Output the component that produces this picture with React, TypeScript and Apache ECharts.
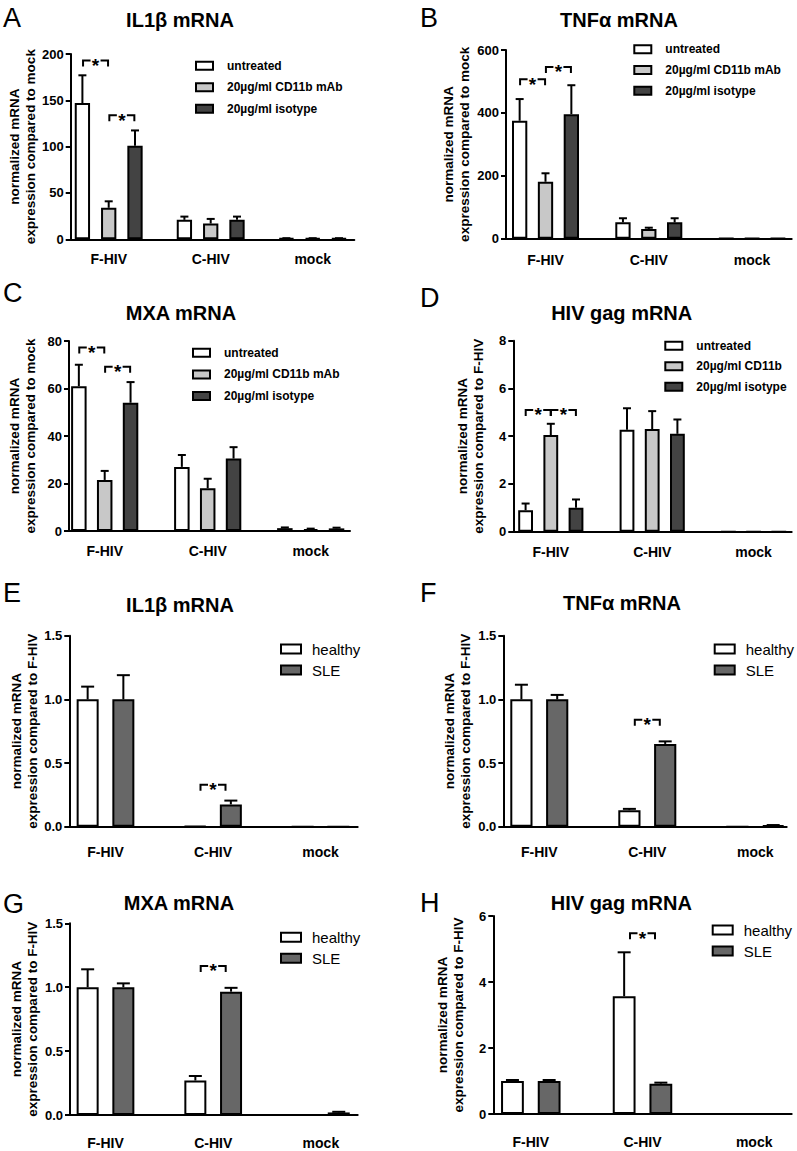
import React, { useEffect, useRef } from 'react';
import * as echarts from 'echarts';

const FONT = '"Liberation Sans", Arial, Helvetica, sans-serif';

// ---------- categories & names ----------
const groups = ['F-HIV', 'C-HIV', 'mock'];
const treatNames = ['untreated', '20µg/ml CD11b mAb', '20µg/ml isotype'];
const treatNamesD = ['untreated', '20µg/ml CD11b', '20µg/ml isotype'];
const donorNames = ['healthy', 'SLE'];
const treatColors = ['#ffffff', '#c8c8c8', '#434343'];
const donorColors = ['#ffffff', '#676767'];

// ---------- tick labels ----------
const ticksA = [0, 50, 100, 150, 200];
const ticksB = [0, 200, 400, 600];
const ticksC = [0, 20, 40, 60, 80];
const ticksD = [0, 2, 4, 6, 8];
const ticksEFG = [0, 0.5, 1.0, 1.5];
const ticksH = [0, 2, 4, 6];

// ---------- A: IL1β mRNA (compared to mock) ----------
const aUntreated = [147, 21, 1];
const aUntreatedErr = [30, 3.5, 0.2];
const aCD11b = [34, 17, 1];
const aCD11bErr = [7, 5, 0.2];
const aIsotype = [101, 21, 1];
const aIsotypeErr = [16.5, 3.5, 0.2];
const aSig = [[0, 0, 1, 193], [0, 1, 2, 134]];

// ---------- B: TNFα mRNA ----------
const bUntreated = [375, 52, 1.5];
const bUntreatedErr = [69, 13, 0];
const bCD11b = [181, 31, 1.5];
const bCD11bErr = [27, 4, 0];
const bIsotype = [396, 52, 1.5];
const bIsotypeErr = [92, 13, 0];
const bSig = [[0, 0, 1, 507], [0, 1, 2, 546]];

// ---------- C: MXA mRNA ----------
const cUntreated = [61, 27, 1.2];
const cUntreatedErr = [9, 5, 0.3];
const cCD11b = [21.5, 18, 0.8];
const cCD11bErr = [3.8, 4, 0.2];
const cIsotype = [54, 30.5, 1.1];
const cIsotypeErr = [8.7, 4.8, 0.3];
const cSig = [[0, 0, 1, 77.3], [0, 1, 2, 69.2]];

// ---------- D: HIV gag mRNA (compared to F-HIV) ----------
const dUntreated = [0.9, 4.27, 0];
const dUntreatedErr = [0.28, 0.9, 0];
const dCD11b = [4.05, 4.3, 0];
const dCD11bErr = [0.47, 0.75, 0];
const dIsotype = [1.0, 4.1, 0];
const dIsotypeErr = [0.35, 0.6, 0];
const dSig = [[0, 0, 1, 5.1], [0, 1, 2, 5.1]];

// ---------- E: IL1β mRNA healthy vs SLE ----------
const eHealthy = [1.0, 0.005, 0];
const eHealthyErr = [0.1, 0, 0];
const eSLE = [1.0, 0.175, 0];
const eSLEErr = [0.19, 0.03, 0];
const eSig = [[1, 0, 1, 0.33]];

// ---------- F: TNFα mRNA ----------
const fHealthy = [1.0, 0.13, 0];
const fHealthyErr = [0.115, 0.01, 0];
const fSLE = [1.0, 0.65, 0.01];
const fSLEErr = [0.035, 0.02, 0.003];
const fSig = [[1, 0, 1, 0.84]];

// ---------- G: MXA mRNA ----------
const gHealthy = [1.0, 0.27, 0];
const gHealthyErr = [0.14, 0.035, 0];
const gSLE = [1.0, 0.965, 0.02];
const gSLEErr = [0.03, 0.03, 0.005];
const gSig = [[1, 0, 1, 1.166]];

// ---------- H: HIV gag mRNA ----------
const hHealthy = [1.0, 3.57, 0];
const hHealthyErr = [0.03, 1.33, 0];
const hSLE = [1.0, 0.92, 0];
const hSLEErr = [0.03, 0.03, 0];
const hSig = [[1, 0, 1, 5.48]];

const mockName = 'normalized mRNA\nexpression compared to mock';
const fhivName = 'normalized mRNA\nexpression compared to F-HIV';

type Panel = {
  letter: string; letterX: number; letterY: number;
  title: string; titleX: number; titleY: number;
  yName: string; ticks: number[]; decimals: number;
  names: string[]; colors: string[]; values: number[][]; errs: number[][]; sig: number[][];
  axisX: number; axisEnd: number; top: number; bottom: number;
  c0: number; spacing: number; pitch: number; barW: number; capW: number;
  legendX: number; legendY: number; legendGap: number; big: boolean;
  nameGap: number; labelMargin: number;
};

const panels: Panel[] = [
  {
    letter: 'A', letterX: 3, letterY: 18, title: 'IL1β mRNA', titleX: 180, titleY: 19.5,
    yName: mockName, ticks: ticksA, decimals: 0,
    names: treatNames, colors: treatColors,
    values: [aUntreated, aCD11b, aIsotype], errs: [aUntreatedErr, aCD11bErr, aIsotypeErr], sig: aSig,
    axisX: 70.7, axisEnd: 354.3, top: 54, bottom: 239.3,
    c0: 108.7, spacing: 102, pitch: 26.3, barW: 15.3, capW: 8,
    legendX: 195, legendY: 59.7, legendGap: 9.5, big: false, nameGap: 31, labelMargin: 13,
  },
  {
    letter: 'B', letterX: 420, letterY: 18, title: 'TNFα mRNA', titleX: 619, titleY: 19.7,
    yName: mockName, ticks: ticksB, decimals: 0,
    names: treatNames, colors: treatColors,
    values: [bUntreated, bCD11b, bIsotype], errs: [bUntreatedErr, bCD11bErr, bIsotypeErr], sig: bSig,
    axisX: 506, axisEnd: 791.7, top: 50, bottom: 238.7,
    c0: 545.5, spacing: 103.3, pitch: 25.85, barW: 15.3, capW: 8,
    legendX: 633.3, legendY: 43.3, legendGap: 8.7, big: false, nameGap: 34, labelMargin: 14,
  },
  {
    letter: 'C', letterX: 3, letterY: 292.5, title: 'MXA mRNA', titleX: 181, titleY: 312.5,
    yName: mockName, ticks: ticksC, decimals: 0,
    names: treatNames, colors: treatColors,
    values: [cUntreated, cCD11b, cIsotype], errs: [cUntreatedErr, cCD11bErr, cIsotypeErr], sig: cSig,
    axisX: 69, axisEnd: 350, top: 341, bottom: 531,
    c0: 104.7, spacing: 103, pitch: 25.85, barW: 15.5, capW: 8,
    legendX: 192, legendY: 346.7, legendGap: 9.7, big: false, nameGap: 31, labelMargin: 13,
  },
  {
    letter: 'D', letterX: 420, letterY: 297.5, title: 'HIV gag mRNA', titleX: 621.7, titleY: 312.5,
    yName: fhivName, ticks: ticksD, decimals: 0,
    names: treatNamesD, colors: treatColors,
    values: [dUntreated, dCD11b, dIsotype], errs: [dUntreatedErr, dCD11bErr, dIsotypeErr], sig: dSig,
    axisX: 513.3, axisEnd: 791.7, top: 340.7, bottom: 531.7,
    c0: 550.8, spacing: 101.4, pitch: 25.2, barW: 14.8, capW: 8,
    legendX: 664.3, legendY: 339.7, legendGap: 8.5, big: false, nameGap: 27, labelMargin: 13,
  },
  {
    letter: 'E', letterX: 3, letterY: 592.5, title: 'IL1β mRNA', titleX: 180, titleY: 604.5,
    yName: fhivName, ticks: ticksEFG, decimals: 1,
    names: donorNames, colors: donorColors,
    values: [eHealthy, eSLE], errs: [eHealthyErr, eSLEErr], sig: eSig,
    axisX: 69.3, axisEnd: 357.7, top: 635.7, bottom: 826.7,
    c0: 105.5, spacing: 107.5, pitch: 35.7, barW: 22, capW: 13,
    legendX: 280, legendY: 641.5, legendGap: 6, big: true, nameGap: 29, labelMargin: 18,
  },
  {
    letter: 'F', letterX: 420, letterY: 592.5, title: 'TNFα mRNA', titleX: 622, titleY: 602.5,
    yName: fhivName, ticks: ticksEFG, decimals: 1,
    names: donorNames, colors: donorColors,
    values: [fHealthy, fSLE], errs: [fHealthyErr, fSLEErr], sig: fSig,
    axisX: 503.3, axisEnd: 786.7, top: 635.7, bottom: 826.7,
    c0: 539.3, spacing: 108, pitch: 35.8, barW: 22.2, capW: 13,
    legendX: 713.7, legendY: 641.5, legendGap: 6, big: true, nameGap: 30, labelMargin: 18,
  },
  {
    letter: 'G', letterX: 3, letterY: 903.5, title: 'MXA mRNA', titleX: 179, titleY: 902.5,
    yName: fhivName, ticks: ticksEFG, decimals: 1,
    names: donorNames, colors: donorColors,
    values: [gHealthy, gSLE], errs: [gHealthyErr, gSLEErr], sig: gSig,
    axisX: 70, axisEnd: 357.7, top: 923.3, bottom: 1115,
    c0: 105.5, spacing: 107.7, pitch: 35.7, barW: 22, capW: 13,
    legendX: 280, legendY: 929.8, legendGap: 6, big: true, nameGap: 30, labelMargin: 21,
  },
  {
    letter: 'H', letterX: 420, letterY: 902.5, title: 'HIV gag mRNA', titleX: 621.3, titleY: 902.5,
    yName: fhivName, ticks: ticksH, decimals: 0,
    names: donorNames, colors: donorColors,
    values: [hHealthy, hSLE], errs: [hHealthyErr, hSLEErr], sig: hSig,
    axisX: 493.3, axisEnd: 791.7, top: 916, bottom: 1114,
    c0: 530.8, spacing: 111.7, pitch: 36.7, barW: 22.8, capW: 13,
    legendX: 711.7, legendY: 922.5, legendGap: 6, big: true, nameGap: 27, labelMargin: 21,
  },
];

function textEl(text: string, x: number, y: number, size: number, weight: string, align = 'center') {
  return {
    type: 'text', x, y, silent: true,
    style: {
      text, fill: '#000', fontSize: size, fontWeight: weight, fontFamily: FONT,
      align, textAlign: align, verticalAlign: 'middle', textVerticalAlign: 'middle',
    },
  };
}

function buildOption() {
  const option: any = {
    animation: false,
    textStyle: { fontFamily: FONT },
    grid: [], xAxis: [], yAxis: [], series: [], legend: [], graphic: [],
  };
  panels.forEach((p, i) => {
    const n = p.names.length;
    option.grid.push({ left: p.axisX, top: p.top, width: p.axisEnd - p.axisX, height: p.bottom - p.top });
    option.xAxis.push({
      type: 'value', gridIndex: i,
      min: (p.axisX - p.c0) / p.spacing, max: (p.axisEnd - p.c0) / p.spacing,
      axisLine: { show: true, onZero: false, lineStyle: { color: '#000', width: 2 } },
      axisTick: { show: false }, splitLine: { show: false },
      axisLabel: {
        customValues: [0, 1, 2],
        formatter: (v: number) => groups[Math.round(v)] || '',
        color: '#000', fontSize: 14, fontWeight: 'bold', fontFamily: FONT,
        margin: p.labelMargin, lineHeight: 14,
      },
    });
    const t = p.ticks;
    option.yAxis.push({
      type: 'value', gridIndex: i, min: t[0], max: t[t.length - 1], interval: t[1] - t[0],
      axisLine: { show: true, onZero: false, lineStyle: { color: '#000', width: 2 } },
      axisTick: { show: true, length: 5, lineStyle: { color: '#000', width: 2 } },
      splitLine: { show: false },
      axisLabel: {
        color: '#000', fontSize: 13, fontWeight: 'bold', fontFamily: FONT, margin: 7,
        formatter: (v: number) => v.toFixed(p.decimals),
      },
      name: p.yName, nameLocation: 'middle', nameGap: p.nameGap,
      nameTextStyle: { color: '#000', fontSize: 13.5, fontWeight: 'bold', fontFamily: FONT, lineHeight: 16 },
    });
    p.names.forEach((name, s) => {
      const gapPct = ((p.pitch - p.barW) / p.barW) * 100;
      option.series.push({
        type: 'bar', name, xAxisIndex: i, yAxisIndex: i, silent: true,
        data: p.values[s].map((v, g) => [g, v]),
        barWidth: p.barW, barGap: gapPct + '%',
        itemStyle: { color: p.colors[s], borderColor: '#000', borderWidth: 2 },
        emphasis: { disabled: true }, z: 3,
      });
    });
    // error bars (upper only)
    const errData: number[][] = [];
    p.values.forEach((vals, s) => vals.forEach((v, g) => errData.push([g, v, p.errs[s][g], s])));
    option.series.push({
      type: 'custom', name: 'err' + i, xAxisIndex: i, yAxisIndex: i, silent: true, z: 4,
      encode: { x: 0, y: 1 }, data: errData,
      renderItem: (params: any, api: any) => {
        const g = api.value(0), v = api.value(1), e = api.value(2), s = api.value(3);
        if (!(e > 0)) return { type: 'group', children: [] };
        const p0 = api.coord([g, v]);
        const p1 = api.coord([g, v + e]);
        const cx = p0[0] + (s - (n - 1) / 2) * p.pitch;
        const st = { stroke: '#000', lineWidth: 2 };
        return {
          type: 'group', children: [
            { type: 'line', shape: { x1: cx, y1: p0[1], x2: cx, y2: p1[1] }, style: st },
            { type: 'line', shape: { x1: cx - p.capW / 2, y1: p1[1], x2: cx + p.capW / 2, y2: p1[1] }, style: st },
          ],
        };
      },
    });
    // significance brackets
    option.series.push({
      type: 'custom', name: 'sig' + i, xAxisIndex: i, yAxisIndex: i, silent: true, z: 5,
      encode: { x: 0, y: 3 }, data: p.sig,
      renderItem: (params: any, api: any) => {
        const g = api.value(0), a = api.value(1), b = api.value(2), y = api.value(3);
        const pt = api.coord([g, y]);
        const mx = pt[0] + ((a + b) / 2 - (n - 1) / 2) * p.pitch;
        const yy = pt[1];
        const st = { stroke: '#000', lineWidth: 2, fill: 'none' };
        return {
          type: 'group', children: [
            { type: 'polyline', shape: { points: [[mx - 12.5, yy + 6], [mx - 12.5, yy], [mx - 5, yy]] }, style: st },
            { type: 'polyline', shape: { points: [[mx + 5, yy], [mx + 12.5, yy], [mx + 12.5, yy + 6]] }, style: st },
            {
              type: 'text', x: mx, y: yy + 5,
              style: {
                text: '*', fill: '#000', fontSize: 19, fontWeight: 'bold', fontFamily: FONT,
                align: 'center', textAlign: 'center', verticalAlign: 'middle', textVerticalAlign: 'middle',
              },
            },
          ],
        };
      },
    });
    const fs = p.big ? 15 : 12;
    option.legend.push({
      show: true, orient: 'vertical', left: p.legendX, top: p.legendY, padding: 0,
      itemWidth: p.big ? 20 : 17, itemHeight: p.big ? 9 : 8, itemGap: p.legendGap,
      selectedMode: false, icon: 'rect', data: p.names,
      itemStyle: { borderColor: '#000', borderWidth: 2 },
      formatter: (name: string) => '{t|' + name + '}',
      textStyle: {
        color: '#000', fontFamily: FONT, fontSize: fs, fontWeight: p.big ? 'normal' : 'bold', lineHeight: fs,
        rich: {
          t: {
            color: '#000', fontFamily: FONT, fontSize: fs, fontWeight: p.big ? 'normal' : 'bold',
            lineHeight: fs, padding: [0, 0, 0, p.big ? 6 : 9],
          },
        },
      },
    });
    option.graphic.push(textEl(p.letter, p.letterX, p.letterY, 27, 'normal', 'left'));
    option.graphic.push(textEl(p.title, p.titleX, p.titleY, 20, 'bold', 'center'));
  });
  return option;
}

export default function App() {
  const ref = useRef<HTMLDivElement>(null);
  useEffect(() => {
    if (!ref.current) return;
    const chart = echarts.init(ref.current, null, { renderer: 'svg' });
    chart.setOption(buildOption());
    return () => chart.dispose();
  }, []);
  return (
    <div
      ref={ref}
      style={{ position: 'absolute', left: 0, top: 0, width: 797, height: 1151, background: '#fff' }}
    />
  );
}
